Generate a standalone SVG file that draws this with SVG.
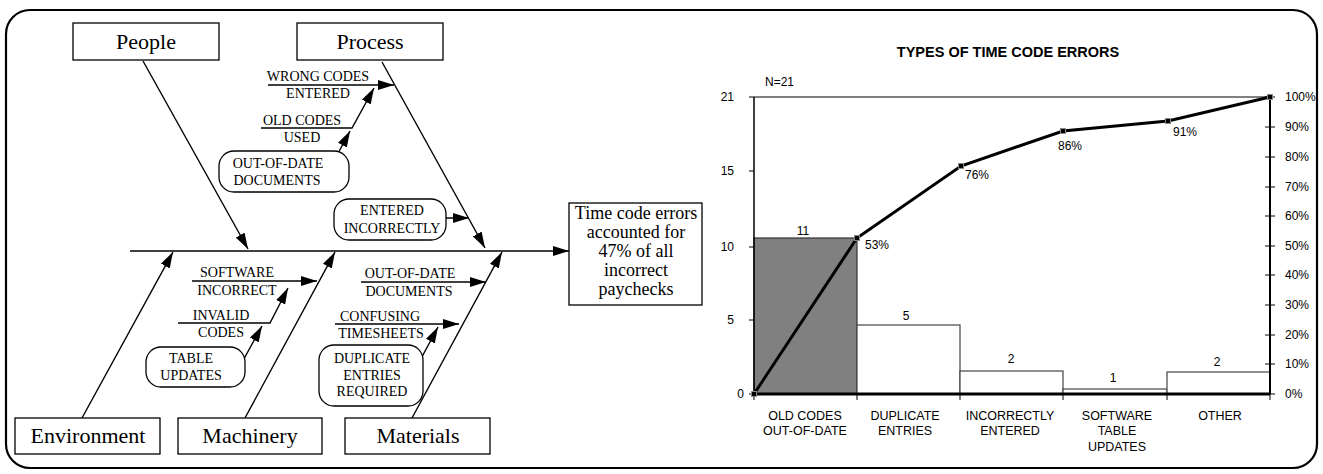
<svg xmlns="http://www.w3.org/2000/svg" width="1323" height="474" viewBox="0 0 1323 474">
<defs>
<marker id="ah" viewBox="0 0 16 10" refX="16" refY="5" markerWidth="16" markerHeight="10" markerUnits="userSpaceOnUse" orient="auto"><path d="M0,0 L16,5 L0,10 z" fill="#000"/></marker>
<style>
.box{fill:#fff;stroke:#000;stroke-width:1.3}
.rbox{fill:#fff;stroke:#000;stroke-width:1.3}
.bone{fill:none;stroke:#000;stroke-width:1.4}
.arr{fill:none;stroke:#000;stroke-width:1.4;marker-end:url(#ah)}
.big{font-family:"Liberation Serif",serif;font-size:22px;text-anchor:middle;fill:#000}
.sm{font-family:"Liberation Serif",serif;font-size:14px;text-anchor:middle;fill:#000}
.res{font-family:"Liberation Serif",serif;font-size:18px;text-anchor:middle;fill:#000}
.ch{font-family:"Liberation Sans",Arial,sans-serif;font-size:12px;fill:#000}
.cat{font-family:"Liberation Sans",Arial,sans-serif;font-size:12.5px;text-anchor:middle;fill:#000}
.ttl{font-family:"Liberation Sans",Arial,sans-serif;font-size:14.5px;font-weight:bold;text-anchor:middle;fill:#000}
.mk{fill:#000;stroke:#888;stroke-width:1}
</style>
</defs>
<rect x="6" y="10" width="1311" height="458" rx="24" ry="24" fill="#fff" stroke="#000" stroke-width="2.2"/>

<g id="connectors">
<line class="arr" x1="130" y1="251" x2="569" y2="251"/>
<line class="arr" x1="143" y1="61" x2="248" y2="249"/>
<line class="arr" x1="382" y1="62" x2="485" y2="248"/>
<line class="arr" x1="82" y1="418" x2="173" y2="252"/>
<line class="arr" x1="245" y1="418" x2="335" y2="252"/>
<line class="arr" x1="412" y1="418" x2="502" y2="252"/>
<line class="arr" x1="268" y1="85" x2="394" y2="85"/>
<polyline class="arr" points="261,128 352,128 374,88"/>
<polyline class="arr" points="233,172 328,172 350,131"/>
<line class="arr" x1="344" y1="218" x2="469" y2="218"/>
<line class="arr" x1="192" y1="281" x2="317" y2="281"/>
<polyline class="arr" points="178,323 270,323 288,288"/>
<polyline class="arr" points="149,366 240,366 262,326"/>
<line class="arr" x1="361" y1="282" x2="486" y2="282"/>
<line class="arr" x1="335" y1="324" x2="459" y2="324"/>
<polyline class="arr" points="328,366 417,366 438,327"/>
</g>

<g id="people"><rect class="box" x="73" y="23" width="146" height="37"/><text class="big" x="146" y="49">People</text></g>
<g id="process"><rect class="box" x="297" y="23" width="146" height="37"/><text class="big" x="370" y="49">Process</text></g>
<g id="environment"><rect class="box" x="15" y="418" width="145" height="36"/><text class="big" x="88" y="443">Environment</text></g>
<g id="machinery"><rect class="box" x="178" y="418" width="144" height="36"/><text class="big" x="250" y="443">Machinery</text></g>
<g id="materials"><rect class="box" x="345" y="418" width="145" height="36"/><text class="big" x="418" y="443">Materials</text></g>

<g id="wrong-codes"><text class="sm" x="318" y="81">WRONG CODES</text><text class="sm" x="318" y="98">ENTERED</text></g>
<g id="old-codes"><text class="sm" x="302" y="125">OLD CODES</text><text class="sm" x="302" y="142">USED</text></g>
<g id="ood-docs-1"><rect class="rbox" x="219" y="151" width="130" height="41" rx="15"/><text class="sm" x="278" y="168">OUT-OF-DATE</text><text class="sm" x="277" y="185">DOCUMENTS</text></g>
<g id="entered-incorrectly"><rect class="rbox" x="334" y="199" width="112" height="41" rx="15"/><text class="sm" x="392" y="215">ENTERED</text><text class="sm" x="392" y="233">INCORRECTLY</text></g>
<g id="software-incorrect"><text class="sm" x="237" y="277">SOFTWARE</text><text class="sm" x="237" y="295">INCORRECT</text></g>
<g id="invalid-codes"><text class="sm" x="221" y="320">INVALID</text><text class="sm" x="221" y="337">CODES</text></g>
<g id="table-updates"><rect class="rbox" x="146" y="347" width="99" height="40" rx="15"/><text class="sm" x="191" y="363">TABLE</text><text class="sm" x="191" y="380">UPDATES</text></g>
<g id="ood-docs-2"><text class="sm" x="410" y="278">OUT-OF-DATE</text><text class="sm" x="409" y="296">DOCUMENTS</text></g>
<g id="confusing-timesheets"><text class="sm" x="380" y="321">CONFUSING</text><text class="sm" x="381" y="338">TIMESHEETS</text></g>
<g id="duplicate-entries"><rect class="rbox" x="319" y="345" width="104" height="61" rx="15"/><text class="sm" x="372" y="363">DUPLICATE</text><text class="sm" x="372" y="380">ENTRIES</text><text class="sm" x="372" y="396">REQUIRED</text></g>

<g id="result"><rect class="box" x="569" y="203" width="133" height="102"/>
<text class="res" x="636" y="219">Time code errors</text>
<text class="res" x="636" y="238">accounted for</text>
<text class="res" x="636" y="257">47% of all</text>
<text class="res" x="636" y="276">incorrect</text>
<text class="res" x="636" y="295">paychecks</text></g>

<g id="pareto-chart">
<text class="ttl" x="1008" y="57">TYPES OF TIME CODE ERRORS</text>
<text class="ch" x="765" y="86">N=21</text>
<rect x="754" y="238" width="103" height="156" fill="#808080" stroke="#333" stroke-width="1.2"/>
<rect x="857" y="325" width="103" height="69" fill="#fff" stroke="#444" stroke-width="1.2"/>
<rect x="960" y="371" width="103" height="23" fill="#fff" stroke="#444" stroke-width="1.2"/>
<rect x="1063" y="389" width="104" height="5" fill="#fff" stroke="#444" stroke-width="1.2"/>
<rect x="1167" y="372" width="103" height="22" fill="#fff" stroke="#444" stroke-width="1.2"/>
<line x1="754" y1="97" x2="1270" y2="97" stroke="#000" stroke-width="1"/>
<line x1="754" y1="97" x2="754" y2="394" stroke="#000" stroke-width="1.5"/>
<line x1="1270" y1="97" x2="1270" y2="394" stroke="#000" stroke-width="2"/>
<line x1="754" y1="394" x2="1270" y2="394" stroke="#000" stroke-width="3"/>
<path d="M749,97H754M749,171H754M749,247H754M749,320H754M749,394H754" stroke="#000" stroke-width="1"/>
<path d="M754,394V400M857,394V400M960,394V400M1063,394V400M1167,394V400M1270,394V400" stroke="#000" stroke-width="1"/>
<path d="M1265,97H1275M1265,127H1275M1265,157H1275M1265,187H1275M1265,216H1275M1265,246H1275M1265,275H1275M1265,305H1275M1265,335H1275M1265,364H1275M1265,394H1275" stroke="#000" stroke-width="1"/>
<g class="ch" text-anchor="end">
<text x="734" y="101">21</text><text x="734" y="175">15</text><text x="734" y="251">10</text><text x="734" y="324">5</text><text x="744" y="398">0</text>
</g>
<g class="ch">
<text x="1285" y="101">100%</text><text x="1285" y="131">90%</text><text x="1285" y="161">80%</text><text x="1285" y="191">70%</text><text x="1285" y="220">60%</text><text x="1285" y="250">50%</text><text x="1285" y="279">40%</text><text x="1285" y="309">30%</text><text x="1285" y="339">20%</text><text x="1285" y="368">10%</text><text x="1285" y="398">0%</text>
</g>
<polyline points="754,394 857,238 961,166 1063,131 1168,121 1270,97" fill="none" stroke="#000" stroke-width="3"/>
<rect class="mk" x="751.5" y="391.5" width="5" height="5"/>
<rect class="mk" x="854.5" y="235.5" width="5" height="5"/>
<rect class="mk" x="958.5" y="163.5" width="5" height="5"/>
<rect class="mk" x="1060.5" y="128.5" width="5" height="5"/>
<rect class="mk" x="1165.5" y="118.5" width="5" height="5"/>
<rect class="mk" x="1267.5" y="94.5" width="5" height="5"/>
<g class="ch">
<text x="865" y="249">53%</text><text x="965" y="179">76%</text>
<text x="1070" y="150" text-anchor="middle">86%</text><text x="1185" y="136" text-anchor="middle">91%</text>
</g>
<g class="ch" text-anchor="middle">
<text x="803" y="235">11</text><text x="906" y="320">5</text><text x="1011" y="363">2</text><text x="1113" y="382">1</text><text x="1217" y="366">2</text>
</g>
<g class="cat">
<text x="805" y="420">OLD CODES</text><text x="805" y="435">OUT-OF-DATE</text>
<text x="905" y="420">DUPLICATE</text><text x="905" y="435">ENTRIES</text>
<text x="1010" y="420">INCORRECTLY</text><text x="1010" y="435">ENTERED</text>
<text x="1117" y="420">SOFTWARE</text><text x="1117" y="435">TABLE</text><text x="1117" y="451">UPDATES</text>
<text x="1220" y="420">OTHER</text>
</g>
</g>
</svg>
